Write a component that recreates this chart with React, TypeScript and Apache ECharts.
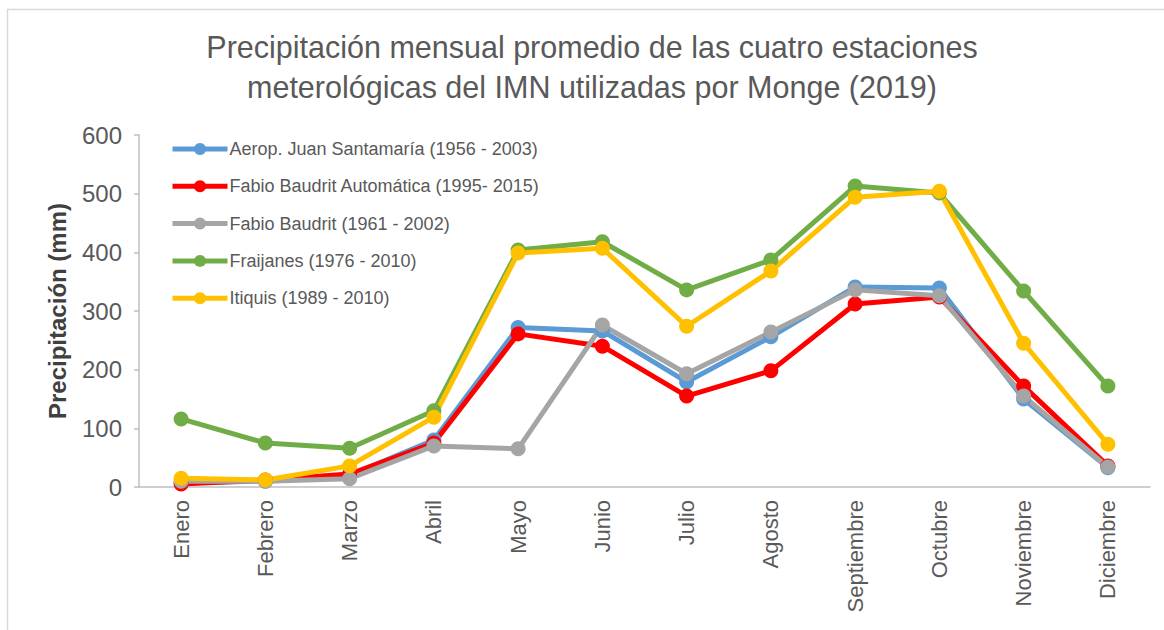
import React, { useEffect, useRef } from "react";
import * as echarts from "echarts";

const months = ["Enero", "Febrero", "Marzo", "Abril", "Mayo", "Junio", "Julio", "Agosto", "Septiembre", "Octubre", "Noviembre", "Diciembre"];
const aeropJuanSantamaria = [7, 10, 20, 80, 272, 266, 179, 256, 341, 339, 150, 33];
const fabioBaudritAuto = [5, 12, 22, 75, 261, 240, 155, 198, 312, 324, 172, 36];
const fabioBaudrit = [10, 10, 14, 70, 65, 276, 193, 264, 336, 326, 155, 34];
const fraijanes = [116, 75, 66, 130, 404, 418, 336, 387, 513, 501, 334, 172];
const itiquis = [15, 12, 36, 119, 399, 407, 274, 368, 494, 504, 245, 73];
const yTicks = { min: 0, max: 600, interval: 100 };

const seriesDefs = [
  { name: "Aerop. Juan Santamaría (1956 - 2003)", data: aeropJuanSantamaria, color: "#5B9BD5" },
  { name: "Fabio Baudrit Automática (1995- 2015)", data: fabioBaudritAuto, color: "#FF0000" },
  { name: "Fabio Baudrit (1961 - 2002)", data: fabioBaudrit, color: "#A5A5A5" },
  { name: "Fraijanes (1976 - 2010)", data: fraijanes, color: "#70AD47" },
  { name: "Itiquis (1989 - 2010)", data: itiquis, color: "#FFC000" },
];

const FONT = "Liberation Sans, Arial, sans-serif";

export default function App() {
  const ref = useRef<HTMLDivElement>(null);
  useEffect(() => {
    if (!ref.current) return;
    const chart = echarts.init(ref.current, null, { renderer: "svg" });
    chart.setOption({
      animation: false,
      backgroundColor: "#ffffff",
      textStyle: { fontFamily: FONT },
      title: {
        text: "Precipitación mensual promedio de las cuatro estaciones\nmeterológicas del IMN utilizadas por Monge (2019)",
        left: 587,
        top: 22,
        textAlign: "center",
        textStyle: { fontSize: 30.5, fontWeight: "normal", color: "#595959", lineHeight: 40, fontFamily: FONT },
      },
      graphic: [
        {
          type: "rect",
          shape: { x: 7.5, y: 9.5, width: 1300, height: 800 },
          style: { fill: "none", stroke: "#d9d9d9", lineWidth: 1.5 },
          silent: true,
        },
      ],
      legend: {
        orient: "vertical",
        left: 165,
        top: 135,
        itemWidth: 55,
        itemHeight: 15,
        itemGap: 19.3,
        lineStyle: { width: 5 },
        textStyle: { fontSize: 18, color: "#595959", fontFamily: FONT, padding: [0, 0, 0, -3] },
        data: seriesDefs.map((s) => s.name),
      },
      grid: { left: 139, right: 14, top: 135, bottom: 143, containLabel: false },
      xAxis: {
        type: "category",
        data: months,
        boundaryGap: true,
        axisLine: { lineStyle: { color: "#bfbfbf", width: 1.5 } },
        axisTick: { alignWithLabel: true, length: 5, lineStyle: { color: "#bfbfbf", width: 1.5 } },
        axisLabel: { rotate: 90, fontSize: 22, color: "#595959", margin: 13, fontFamily: FONT },
      },
      yAxis: {
        type: "value",
        min: yTicks.min,
        max: yTicks.max,
        interval: yTicks.interval,
        name: "Precipitación (mm)",
        nameLocation: "middle",
        nameGap: 70,
        nameTextStyle: { fontSize: 24, color: "#404040", fontWeight: "bold", fontFamily: FONT },
        axisLine: { show: true, lineStyle: { color: "#bfbfbf", width: 1.5 } },
        axisTick: { show: true, length: 5, lineStyle: { color: "#bfbfbf", width: 1.5 } },
        splitLine: { show: false },
        axisLabel: { fontSize: 24, color: "#595959", margin: 17, fontFamily: FONT },
      },
      series: seriesDefs.map((s) => ({
        name: s.name,
        type: "line",
        data: s.data,
        symbol: "circle",
        symbolSize: 15,
        lineStyle: { width: 5, color: s.color },
        itemStyle: { color: s.color },
        color: s.color,
      })),
    });
    return () => chart.dispose();
  }, []);
  return <div ref={ref} style={{ position: "fixed", left: 0, top: 0, width: 1164, height: 630 }} />;
}
